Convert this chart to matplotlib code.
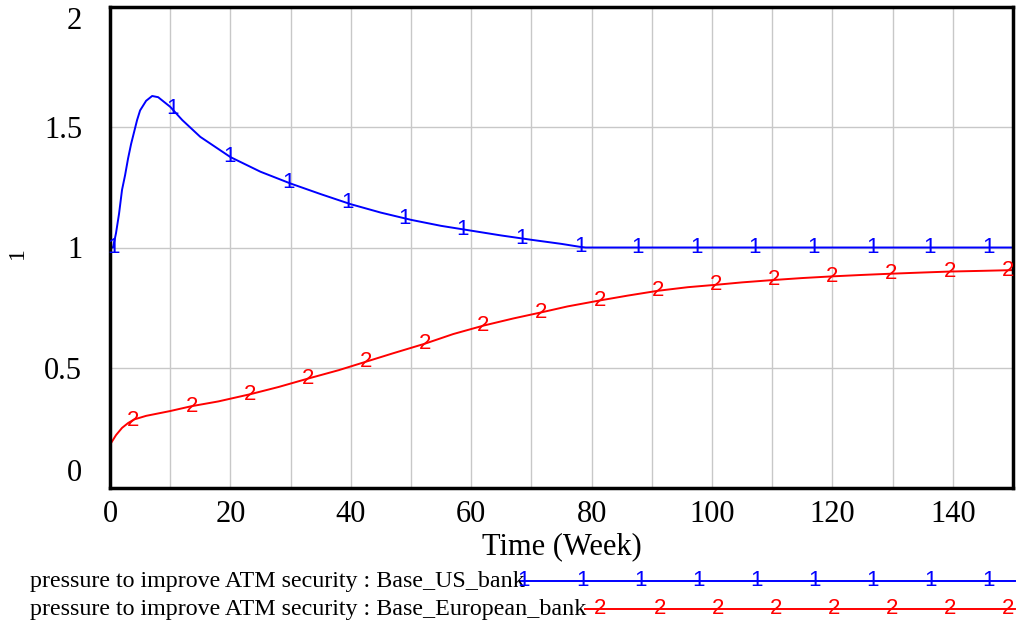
import numpy as np
import matplotlib
matplotlib.use("Agg")
import matplotlib.pyplot as plt
from matplotlib.lines import Line2D

# ---- data ----
us_t = [0, 0.5, 1, 1.5, 2, 2.5, 3, 3.5, 4, 4.5, 5, 6, 7, 8, 9, 10, 12, 15, 20, 25,
        30, 35, 40, 45, 50, 55, 60, 65, 70, 75, 78, 79, 150]
us_v = [1.0, 1.0, 1.06, 1.14, 1.24, 1.3, 1.37, 1.43, 1.48, 1.53, 1.57, 1.61, 1.63, 1.625,
        1.605, 1.585, 1.53, 1.46, 1.376, 1.315, 1.266, 1.222, 1.18, 1.145, 1.115, 1.09,
        1.07, 1.05, 1.032, 1.015, 1.003, 1.0, 1.0]
eu_t = [0, 0.5, 1, 2, 3, 4, 6, 8, 10, 13.5, 18, 23.3, 28, 32.9, 38, 42.5, 47, 52.3, 57,
        62, 67, 71.6, 76, 81.4, 86, 91, 96, 100.7, 105, 110.3, 115, 120, 125, 129.7,
        135, 139.5, 145, 150]
eu_v = [0.18, 0.2, 0.22, 0.25, 0.27, 0.285, 0.3, 0.31, 0.32, 0.34, 0.36, 0.39, 0.42, 0.455,
        0.49, 0.525, 0.56, 0.6, 0.64, 0.675, 0.705, 0.73, 0.755, 0.78, 0.8, 0.82, 0.835,
        0.845, 0.855, 0.865, 0.873, 0.88, 0.886, 0.891, 0.896, 0.9, 0.903, 0.906]
us_marks = [0.5, 10.3, 19.9, 29.6, 39.4, 49.0, 58.6, 68.4, 78.1, 87.7, 97.5, 107.1,
            116.8, 126.6, 136.2, 146.0]
eu_marks = [3.8, 13.6, 23.3, 32.9, 42.5, 52.3, 62.0, 71.6, 81.4, 91.0, 100.7, 110.3,
            120.0, 129.7, 139.5, 149.2]
x_ticks = [0, 20, 40, 60, 80, 100, 120, 140]
y_ticks = [0, 0.5, 1, 1.5, 2]
y_tick_labels = ["0", "0.5", "1", "1.5", "2"]
legend_labels = ["pressure to improve ATM security : Base_US_bank",
                 "pressure to improve ATM security : Base_European_bank"]

BLUE = "#0000ff"
RED = "#ff0000"
SERIF = "Liberation Serif"
SANS = "Liberation Sans"

fig = plt.figure(figsize=(10.21, 6.31), dpi=100)
ax = fig.add_axes([110 / 1021, 1 - 488 / 631, (1013 - 110) / 1021, (488 - 7) / 631])

ax.set_xlim(0, 150)
ax.set_ylim(0, 2)
ax.set_xticks(np.arange(0, 151, 10))
ax.set_yticks(y_ticks)
ax.grid(True, color="#c8c8c8", lw=1)
ax.set_axisbelow(True)
ax.tick_params(length=0)
ax.tick_params(axis="x", pad=9)
ax.tick_params(axis="y", pad=20)
ax.set_xticklabels([str(int(v)) if v in x_ticks else "" for v in np.arange(0, 151, 10)],
                   fontfamily=SERIF, fontsize=22)
ax.set_yticklabels(y_tick_labels, fontfamily=SERIF, fontsize=22)
ylabs = ax.get_yticklabels()
ylabs[0].set_va("bottom")
ylabs[-1].set_va("top")
for s in ax.spines.values():
    s.set_linewidth(2.5)
    s.set_color("black")

ax.plot(us_t, us_v, color=BLUE, lw=1.4)
ax.plot(eu_t, eu_v, color=RED, lw=1.4)
for t in us_marks:
    ax.text(t, np.interp(t, us_t, us_v), "1", color=BLUE, fontfamily=SANS, fontsize=16,
            ha="center", va="center")
for t in eu_marks:
    ax.text(t, np.interp(t, eu_t, eu_v), "2", color=RED, fontfamily=SANS, fontsize=16,
            ha="center", va="center")

ax.set_xlabel("Time (Week)", fontfamily=SERIF, fontsize=22, labelpad=2)
fig.text(17 / 1021, 1 - 253 / 631, "1", rotation=90, fontfamily=SERIF, fontsize=17,
         ha="center", va="center")

# legend
rows = [(581, 520, BLUE, "1", [523, 582, 640, 698, 756, 814, 872, 930, 988]),
        (609, 585, RED, "2", [600, 660, 718, 776, 834, 892, 950, 1008])]
for (y, xs, col, m, mx), lab in zip(rows, legend_labels):
    fy = 1 - y / 631
    fig.text(30 / 1021, fy, lab, fontfamily=SERIF, fontsize=17.3, ha="left", va="center")
    fig.add_artist(Line2D([xs / 1021, 1015 / 1021], [fy, fy], color=col, lw=1.4,
                          transform=fig.transFigure))
    for x in mx:
        fig.text(x / 1021, fy, m, color=col, fontfamily=SANS, fontsize=16,
                 ha="center", va="center")

fig.savefig("out.png", dpi=100)
